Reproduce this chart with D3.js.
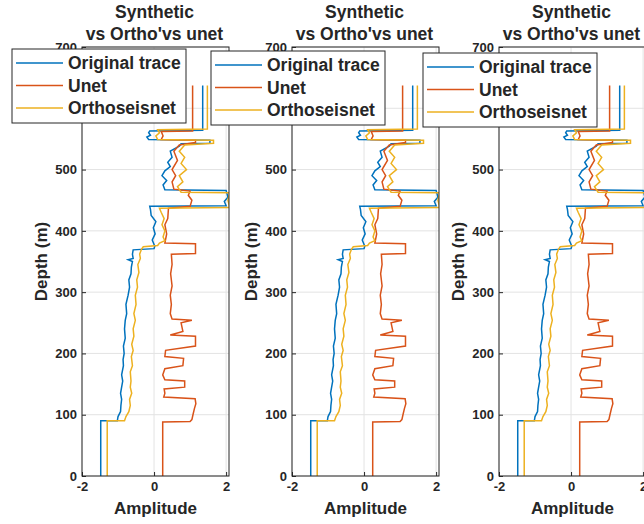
<!DOCTYPE html>
<html>
<head>
<meta charset="utf-8">
<script src="https://cdn.jsdelivr.net/npm/d3@7"></script>
<style>
body { margin: 0; background: #fff; }
text { font-family: "Liberation Sans", Arial, Helvetica, sans-serif; font-weight: bold; fill: #262626; }
</style>
</head>
<body>
<div id="chart"></div>
<script>

// depth ticks (m) and amplitude ticks
const depthTicks = [0, 100, 200, 300, 400, 500, 600, 700];
const ampTicks = [-2, 0, 2];
const titleLines = ["Synthetic", "vs Ortho'vs unet"];
const seriesNames = ["Original trace", "Unet", "Orthoseisnet"];
const seriesColors = ["#0072BD", "#D95319", "#EDB120"];

// [depth, amplitude]
const originalTrace = [
    [0, -1.48], [90, -1.48], [90, -1.02], [97, -1.0], [105, -0.93], [115, -0.92], [125, -0.9],
    [135, -0.93], [145, -0.9], [155, -0.87], [165, -0.9], [180, -0.85], [190, -0.86], [200, -0.83],
    [212, -0.85], [225, -0.8], [240, -0.82], [254, -0.8], [265, -0.76], [280, -0.78], [295, -0.72],
    [308, -0.68], [320, -0.7], [330, -0.64], [341, -0.63], [350, -0.6], [353, -0.72], [355, -0.58],
    [362, -0.6], [369, -0.58], [371, 0.0], [375, 0.02], [385, -0.05], [395, 0.03], [405, -0.02],
    [415, 0.05], [425, -0.08], [435, -0.1], [440, -0.12], [441, 2.0], [448, 1.95], [455, 2.05],
    [466, 2.0], [467, 0.3], [475, 0.25], [482, 0.35], [490, 0.22], [498, 0.3], [505, 0.45],
    [512, 0.38], [520, 0.5], [530, 0.45], [538, 0.7], [542, 0.75], [543, 1.55], [548, 1.55],
    [549, -0.15], [553, -0.2], [556, -0.1], [560, -0.15], [563, -0.12], [564, 1.35], [637, 1.35]
];

const unetTrace = [
    [0, 0.24], [88, 0.24], [89, 1.0], [92, 1.05], [100, 1.08], [110, 1.12], [118, 1.16],
    [126, 1.14], [129, 0.27], [135, 0.3], [142, 0.28], [145, 0.85], [155, 0.85], [157, 0.3],
    [165, 0.24], [175, 0.3], [180, 0.8], [192, 0.82], [195, 0.3], [205, 0.32], [212, 1.15],
    [228, 1.15], [230, 0.45], [236, 0.8], [250, 0.75], [254, 1.05], [256, 0.5], [265, 0.45],
    [280, 0.48], [295, 0.45], [310, 0.5], [330, 0.46], [345, 0.5], [362, 0.48], [363, 1.15],
    [379, 1.15], [380, 0.3], [395, 0.35], [410, 0.3], [420, 0.38], [437, 0.4], [440, 1.0],
    [450, 1.05], [458, 0.95], [465, 1.0], [468, 0.55], [480, 0.5], [490, 0.6], [500, 0.5],
    [515, 0.65], [530, 0.55], [540, 0.7], [544, 1.15], [548, 1.15], [549, 0.2], [555, 0.25],
    [562, 0.2], [563, 1.07], [637, 1.07]
];

const orthoTrace = [
    [0, -1.3], [90, -1.3], [90, -0.82], [97, -0.78], [105, -0.7], [115, -0.66], [125, -0.68],
    [135, -0.62], [145, -0.66], [155, -0.64], [170, -0.66], [180, -0.6], [195, -0.63], [205, -0.58],
    [215, -0.62], [228, -0.56], [240, -0.58], [254, -0.52], [265, -0.56], [280, -0.5], [295, -0.52],
    [308, -0.46], [320, -0.48], [332, -0.42], [345, -0.45], [355, -0.38], [362, -0.4], [370, -0.35],
    [374, -0.3], [376, 0.1], [380, 0.15], [384, 0.3], [390, 0.25], [400, 0.3], [410, 0.22],
    [420, 0.28], [430, 0.2], [437, 0.15], [438, 2.1], [450, 2.05], [462, 2.1], [463, 0.75],
    [472, 0.65], [480, 0.8], [490, 0.7], [500, 0.9], [510, 0.75], [520, 0.85], [530, 0.7],
    [540, 0.85], [543, 1.65], [548, 1.65], [549, 0.1], [555, 0.05], [560, 0.15], [565, 0.1],
    [566, 1.48], [637, 1.48]
];

const traces = [originalTrace, unetTrace, orthoTrace];

class DepthPanel {
    constructor(svg, idx, left, legendPos) {
        this.svg = svg;
        this.idx = idx;
        this.left = left;
        this.legendPos = legendPos;
        this.initVis();
    }

    initVis() {
        let vis = this;

        vis.width = 147;
        vis.top = 47;
        vis.bottom = 476;
        vis.height = vis.bottom - vis.top;

        vis.g = vis.svg.append("g")
            .attr("transform", "translate(" + vis.left + "," + vis.top + ")");

        vis.x = d3.scaleLinear().domain([-2, 2.08]).range([0, vis.width]);
        vis.y = d3.scaleLinear().domain([0, 700]).range([vis.height, 0]);

        // grid
        vis.g.selectAll(".ygrid").data(depthTicks).enter().append("line")
            .attr("x1", 0).attr("x2", vis.width)
            .attr("y1", d => vis.y(d)).attr("y2", d => vis.y(d))
            .attr("stroke", "#e3e3e3");
        vis.g.selectAll(".xgrid").data(ampTicks).enter().append("line")
            .attr("y1", 0).attr("y2", vis.height)
            .attr("x1", d => vis.x(d)).attr("x2", d => vis.x(d))
            .attr("stroke", "#e3e3e3");

        vis.g.append("clipPath").attr("id", "clip" + vis.idx)
            .append("rect").attr("width", vis.width).attr("height", vis.height);

        let line = d3.line()
            .x(d => vis.x(d[1]))
            .y(d => vis.y(d[0]));

        vis.g.append("g").attr("clip-path", "url(#clip" + vis.idx + ")")
            .selectAll("path").data(traces).enter().append("path")
            .attr("d", line)
            .attr("fill", "none")
            .attr("stroke", (d, i) => seriesColors[i])
            .attr("stroke-width", 1.5);

        // axes
        vis.yAxis = d3.axisLeft(vis.y).tickValues(depthTicks).tickSize(-4).tickPadding(5);
        vis.xAxis = d3.axisBottom(vis.x).tickValues(ampTicks).tickSize(-4).tickPadding(6)
            .tickFormat(d => String(d));

        vis.g.append("g").call(vis.yAxis)
            .call(g => g.select(".domain").remove());
        vis.g.append("g").attr("transform", "translate(0," + vis.height + ")").call(vis.xAxis)
            .call(g => g.select(".domain").remove());

        vis.g.selectAll(".tick text").attr("font-size", 13).attr("fill", "#262626")
            .attr("font-family", "Liberation Sans, Arial, sans-serif").attr("font-weight", "bold");
        vis.g.selectAll(".tick line").attr("stroke", "#262626");

        vis.g.append("rect")
            .attr("width", vis.width).attr("height", vis.height)
            .attr("fill", "none").attr("stroke", "#262626").attr("stroke-width", 1);

        // labels
        vis.g.append("text")
            .attr("text-anchor", "middle")
            .attr("transform", "translate(-35," + (vis.height / 2) + ") rotate(-90)")
            .attr("font-size", 17)
            .text("Depth (m)");

        vis.g.append("text")
            .attr("text-anchor", "middle")
            .attr("x", vis.width / 2).attr("y", vis.height + 38)
            .attr("font-size", 17)
            .text("Amplitude");

        vis.g.selectAll(".title").data(titleLines).enter().append("text")
            .attr("text-anchor", "middle")
            .attr("x", vis.width / 2 - 1)
            .attr("y", (d, i) => 18 - vis.top + i * 22)
            .attr("font-size", 17.5)
            .text(d => d);

        // legend
        let lg = vis.svg.append("g")
            .attr("transform", "translate(" + vis.legendPos[0] + "," + vis.legendPos[1] + ")");
        lg.append("rect")
            .attr("width", 174).attr("height", 74)
            .attr("fill", "#fff").attr("stroke", "#262626").attr("stroke-width", 1);
        let items = lg.selectAll(".item").data(seriesNames).enter().append("g")
            .attr("transform", (d, i) => "translate(0," + (14 + i * 22.5) + ")");
        items.append("line")
            .attr("x1", 4).attr("x2", 51)
            .attr("stroke", (d, i) => seriesColors[i]).attr("stroke-width", 1.5);
        items.append("text")
            .attr("x", 56).attr("dy", "0.36em")
            .attr("font-size", 17.5)
            .text(d => d);
    }
}

let svg = d3.select("#chart").append("svg")
    .attr("width", 644).attr("height", 524);

new DepthPanel(svg, 0, 82, [12, 49]);
new DepthPanel(svg, 1, 292, [211, 51]);
new DepthPanel(svg, 2, 499, [423, 53]);

</script>
</body>
</html>
